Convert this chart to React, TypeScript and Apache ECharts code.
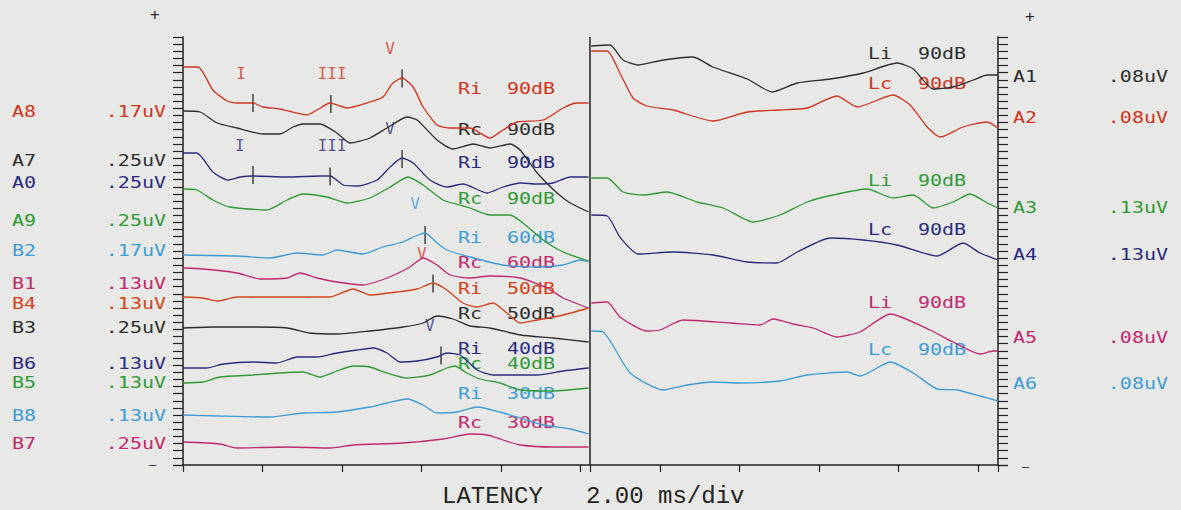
import React, { useEffect, useRef } from "react";
import * as echarts from "echarts";

// ---- units: x = latency (ms), y = vertical plot row (0 = top of plot, 428 = baseline), axis inverted
const RIGHT_PANEL_START_MS = 10.24;
const X_TICKS_MS = [0, 2, 4, 6, 8, 10, 10.24, 12, 14, 16, 18, 20, 20.5];

// Left panel (right ear) traces: [latency ms, plot row]
const A8_RI_90 = [[0,30],[0.38,30],[0.75,53],[1.11,64],[1.36,66],[1.76,66],[2.01,70],[2.44,72],[3.12,78],[3.37,73],[3.7,66],[4.13,71],[4.7,65],[5.03,60],[5.28,46],[5.51,41],[5.79,50],[6.04,70],[6.39,88],[6.72,91],[7.22,91],[7.72,101],[8.05,93],[8.4,85],[9.06,83],[9.56,71],[9.91,66],[10.2,66]];
const A7_RC_90 = [[0,74],[0.43,75],[0.86,86],[1.36,91],[2.01,97],[2.44,97],[2.77,90],[3.02,87],[3.45,87],[3.87,96],[4.2,106],[4.7,101],[5.13,91],[5.64,80],[5.89,83],[6.39,103],[6.79,112],[7.3,107],[7.72,111],[8.23,107],[8.48,113],[8.91,136],[9.41,156],[9.74,166],[10.2,175]];
const A0_RI_90 = [[0,116],[0.35,116],[0.75,135],[1.13,143],[1.43,140],[1.76,139],[2.62,140],[3.45,139],[3.7,139],[4.03,148],[4.38,149],[4.88,143],[5.21,130],[5.51,121],[5.79,126],[6.21,143],[6.64,150],[7.04,147],[7.65,156],[8.05,150],[8.48,146],[8.91,147],[9.31,146],[9.74,140],[10.2,140]];
const A9_RC_90 = [[0,152],[0.35,153],[0.75,163],[1.18,170],[2.11,173],[2.62,163],[3.02,157],[3.62,160],[4.13,166],[4.7,161],[5.21,150],[5.66,140],[6.04,148],[6.54,163],[7.22,171],[7.72,178],[8.23,178],[8.55,186],[9.06,203],[9.56,215],[10.2,224]];
const B2_RI_60 = [[0,218],[1.36,219],[2.19,221],[2.87,216],[3.52,218],[3.87,213],[4.53,217],[5.03,210],[5.53,205],[5.91,198],[6.09,196],[6.39,206],[6.64,213],[7.22,220],[8.05,228],[8.91,230],[9.56,228],[9.99,223],[10.2,225]];
const B1_RC_60 = [[0,231],[0.5,232],[1.36,236],[1.94,242],[2.62,241],[2.94,236],[3.37,241],[3.87,245],[4.53,248],[5.13,241],[5.71,230],[6.04,221],[6.39,228],[6.72,238],[7.22,241],[7.72,239],[8.48,241],[9.16,251],[9.56,261],[10.2,271]];
const B4_RI_50 = [[0,260],[0.5,261],[0.86,264],[1.36,260],[3.02,260],[3.7,260],[4.28,252],[4.7,258],[5.38,255],[5.89,252],[6.29,246],[6.64,253],[7.04,266],[7.4,270],[7.8,266],[8.15,276],[8.48,286],[8.91,283],[9.56,278],[10.2,271]];
const B3_RC_50 = [[0,291],[0.75,290],[1.76,290],[2.62,291],[3.19,296],[3.87,297],[4.7,294],[5.53,290],[6.04,286],[6.39,279],[6.79,282],[7.22,289],[7.72,291],[8.48,298],[9.31,301],[10.2,305]];
const B6_RI_40 = [[0,331],[0.6,331],[1.01,327],[1.76,325],[2.36,326],[2.87,320],[3.37,320],[3.87,316],[4.38,313],[4.78,311],[5.13,316],[5.46,325],[5.89,324],[6.39,320],[6.64,316],[6.97,318],[7.4,333],[7.8,338],[8.91,338],[9.56,334],[10.2,331]];
const B5_RC_40 = [[0,346],[0.5,345],[0.93,340],[1.76,338],[2.44,336],[3.02,335],[3.45,340],[3.87,334],[4.28,329],[4.7,330],[5.13,336],[5.64,341],[6.21,338],[6.64,331],[6.84,329],[7.14,336],[7.47,342],[7.97,346],[8.48,353],[9.31,354],[10.2,351]];
const B8_RI_30 = [[0,378],[0.93,379],[2.19,380],[3.02,376],[3.87,375],[4.7,370],[5.13,366],[5.64,362],[6.04,368],[6.39,376],[6.89,375],[7.4,370],[7.97,375],[8.48,381],[9.06,388],[9.74,392],[10.2,397]];
const B7_RC_30 = [[0,405],[0.93,407],[1.36,411],[2.62,410],[3.7,411],[4.28,408],[5.53,406],[6.54,402],[7.22,397],[7.65,398],[8.05,403],[8.48,408],[9.31,410],[10.2,410]];

// Right panel (left ear) traces: [latency ms from its own stimulus, plot row]
const A1_LI_90 = [[0.03,9],[0.5,8],[0.83,23],[1.21,28],[1.84,23],[2.59,20],[3.09,30],[3.95,42],[4.58,55],[5.21,46],[6.04,42],[6.87,36],[7.72,26],[8.13,32],[8.63,52],[9.13,50],[9.64,43],[9.99,38],[10.26,38]];
const A2_LC_90 = [[0.03,14],[0.43,14],[0.75,36],[1.08,61],[1.43,69],[2.09,73],[3.09,84],[3.95,75],[4.78,73],[5.46,71],[6.21,59],[6.72,70],[7.62,58],[8.05,68],[8.48,90],[8.81,100],[9.38,90],[9.99,85],[10.26,91]];
const A3_LI_90 = [[0.03,141],[0.43,141],[0.83,155],[1.33,158],[1.94,155],[2.69,165],[3.35,171],[4.1,185],[4.78,178],[5.46,165],[6.11,158],[6.97,152],[7.62,161],[8.13,158],[8.63,171],[9.13,165],[9.56,157],[9.99,166],[10.26,171]];
const A4_LC_90 = [[0.03,178],[0.43,179],[0.75,200],[1.21,217],[2.09,215],[3.09,218],[3.95,225],[4.7,226],[5.21,215],[6.04,201],[6.87,203],[7.72,208],[8.73,219],[9.38,206],[9.81,216],[10.26,223]];
const A5_LI_90 = [[0.03,266],[0.43,265],[0.75,280],[1.43,294],[1.76,293],[2.34,283],[3.52,286],[4.28,288],[4.6,282],[5.11,287],[5.61,291],[6.21,300],[6.79,295],[7.55,277],[8.55,293],[9.13,305],[9.81,317],[10.14,314],[10.26,314]];
const A6_LC_90 = [[0.03,294],[0.33,295],[1.01,336],[1.84,353],[2.44,348],[3.09,345],[3.77,346],[4.78,344],[5.46,338],[6.47,335],[6.79,339],[7.55,325],[8.13,336],[8.73,352],[9.23,353],[9.81,359],[10.26,364]];

// Peak markers (latency ms, plot row) and their names
const PEAK_TICKS = [[1.76,66],[3.72,67],[5.51,41.5],[1.76,138],[3.7,139.5],[5.51,122],[6.09,198],[6.29,246.5],[6.49,318.5]];
const PEAK_NAMES = ["I","III","V","I","III","V","V","V","V"];
const PEAK_NAME_POS = [[1.46,36],[3.75,36],[5.21,11],[1.43,108],[3.75,108],[5.21,91],[5.84,166],[6.01,216],[6.21,288]];

// Text
const LEFT_CHANNELS = ["A8","A7","A0","A9","B2","B1","B4","B3","B6","B5","B8","B7"];
const LEFT_GAINS = [".17uV",".25uV",".25uV",".25uV",".17uV",".13uV",".13uV",".25uV",".13uV",".13uV",".13uV",".25uV"];
const LEFT_SIDES = ["Ri","Rc","Ri","Rc","Ri","Rc","Ri","Rc","Ri","Rc","Ri","Rc"];
const LEFT_LEVELS = ["90dB","90dB","90dB","90dB","60dB","60dB","50dB","50dB","40dB","40dB","30dB","30dB"];
const RIGHT_CHANNELS = ["A1","A2","A3","A4","A5","A6"];
const RIGHT_GAINS = [".08uV",".08uV",".13uV",".13uV",".08uV",".08uV"];
const RIGHT_SIDES = ["Li","Lc","Li","Lc","Li","Lc"];
const RIGHT_LEVELS = ["90dB","90dB","90dB","90dB","90dB","90dB"];
const X_TITLE = "LATENCY   2.00 ms/div";

const RED = "#cf3422";
const BLACK = "#2e2e2e";
const NAVY = "#2b2b7e";
const GREEN = "#2f9a36";
const SKY = "#3d9cd6";
const MAGENTA = "#c0296e";
const ORANGE = "#d2431a";
const BG = "#e8e8e6";

const LEFT_DATA = [A8_RI_90, A7_RC_90, A0_RI_90, A9_RC_90, B2_RI_60, B1_RC_60, B4_RI_50, B3_RC_50, B6_RI_40, B5_RC_40, B8_RI_30, B7_RC_30];
const LEFT_COLORS = [RED, BLACK, NAVY, GREEN, SKY, MAGENTA, ORANGE, BLACK, NAVY, GREEN, SKY, MAGENTA];
const RIGHT_DATA = [A1_LI_90, A2_LC_90, A3_LI_90, A4_LC_90, A5_LI_90, A6_LC_90];
const RIGHT_COLORS = [BLACK, RED, GREEN, NAVY, MAGENTA, SKY];
const PEAK_NAME_COLORS = [RED, RED, RED, NAVY, NAVY, NAVY, SKY, RED, NAVY];

const FONT = '"DejaVu Sans Mono", monospace';

export default function App() {
  const ref = useRef<HTMLDivElement>(null);
  useEffect(() => {
    if (!ref.current) return;
    const chart = echarts.init(ref.current, undefined, { renderer: "svg" });

    // layout (pixel placement of text)
    const leftLabelY = [111,160,182,220,250,283,303,327,363,382,415,443];
    const leftTagY = [88,129,162,198,237,262,288,313,348,363,393,422];
    const rightLabelY = [76,117,207,254,337,383];
    const rightTagY = [53,83,180,229,302,349];
    const SX = 1.25;

    const txt = (x: number, y: number, text: string, fill: string, align = "left", size = 16, sx = SX, font = FONT) => ({
      type: "text",
      x, y, scaleX: sx,
      silent: true,
      style: { text, fill, font: `${size}px ${font}`, align, verticalAlign: "middle" },
    });

    const graphics: any[] = [];
    LEFT_CHANNELS.forEach((c, i) => {
      graphics.push(txt(12, leftLabelY[i], c, LEFT_COLORS[i]));
      graphics.push(txt(166, leftLabelY[i], LEFT_GAINS[i], LEFT_COLORS[i], "right"));
      graphics.push(txt(458, leftTagY[i], LEFT_SIDES[i], LEFT_COLORS[i]));
      graphics.push(txt(507, leftTagY[i], LEFT_LEVELS[i], LEFT_COLORS[i]));
    });
    RIGHT_CHANNELS.forEach((c, i) => {
      graphics.push(txt(1013, rightLabelY[i], c, RIGHT_COLORS[i]));
      graphics.push(txt(1168, rightLabelY[i], RIGHT_GAINS[i], RIGHT_COLORS[i], "right"));
      graphics.push(txt(868, rightTagY[i], RIGHT_SIDES[i], RIGHT_COLORS[i]));
      graphics.push(txt(918, rightTagY[i], RIGHT_LEVELS[i], RIGHT_COLORS[i]));
    });
    graphics.push(txt(150, 14, "+", BLACK, "left", 16, 1));
    graphics.push(txt(149, 465, "—", BLACK, "left", 12, 1));
    graphics.push(txt(1025, 16, "+", BLACK, "left", 16, 1));
    graphics.push(txt(1022, 467, "—", BLACK, "left", 12, 1));
    graphics.push(txt(442, 496, X_TITLE, "#222", "left", 24, 1, '"Liberation Mono", monospace'));

    const series: any[] = [];
    LEFT_DATA.forEach((d, i) => {
      series.push({
        type: "line", data: d, showSymbol: false, smooth: 0.2, silent: true,
        lineStyle: { color: LEFT_COLORS[i], width: 1.3 },
      });
    });
    RIGHT_DATA.forEach((d, i) => {
      series.push({
        type: "line", data: d.map(([t, v]) => [t + RIGHT_PANEL_START_MS, v]), showSymbol: false, smooth: 0.2, silent: true,
        lineStyle: { color: RIGHT_COLORS[i], width: 1.3 },
      });
    });
    series.push({
      type: "scatter", data: PEAK_TICKS, symbol: "rect", symbolSize: [1.6, 18], silent: true,
      itemStyle: { color: "#222" },
      markLine: {
        silent: true, symbol: "none", label: { show: false },
        lineStyle: { color: "#222", width: 1.5, type: "solid" },
        data: [[{ coord: [RIGHT_PANEL_START_MS, 0] }, { coord: [RIGHT_PANEL_START_MS, 428] }]],
      },
    });
    series.push({
      type: "scatter", symbolSize: 0, silent: true,
      data: PEAK_NAMES.map((n, i) => ({
        name: n, value: PEAK_NAME_POS[i],
        label: { color: PEAK_NAME_COLORS[i] },
      })),
      label: {
        show: true, position: "inside", formatter: "{b}",
        fontFamily: FONT, fontSize: 16,
      },
    });

    const yAxisBase = {
      type: "value", min: 0, max: 428, inverse: true, interval: 428 / 60,
      axisLine: { show: true, onZero: false, lineStyle: { color: "#222", width: 1.5 } },
      axisTick: { show: true, length: 10, lineStyle: { color: "#222", width: 1.2 } },
      axisLabel: { show: false }, splitLine: { show: false },
    };

    chart.setOption({
      animation: false,
      backgroundColor: BG,
      grid: { left: 183, right: 183, top: 37, bottom: 45 },
      xAxis: {
        type: "value", min: 0, max: 20.5, interval: 2,
        axisLine: { show: true, onZero: false, lineStyle: { color: "#222", width: 1.5 } },
        axisTick: { show: true, length: 7, customValues: X_TICKS_MS, lineStyle: { color: "#222", width: 1.2 } },
        axisLabel: { show: false }, splitLine: { show: false },
      },
      yAxis: [
        { ...yAxisBase, position: "left" },
        { ...yAxisBase, position: "right" },
      ],
      graphic: graphics,
      series,
    });
    return () => chart.dispose();
  }, []);
  return <div ref={ref} style={{ position: "absolute", left: 0, top: 0, width: 1181, height: 510 }} />;
}
